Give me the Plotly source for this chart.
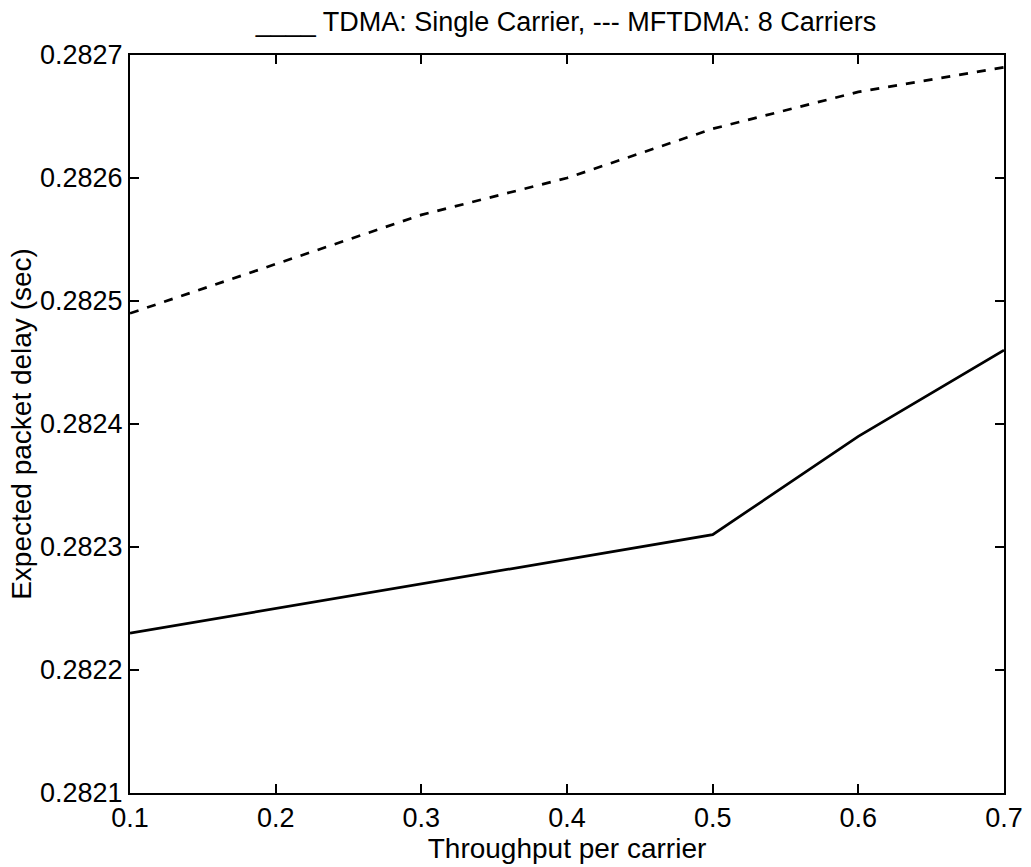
import plotly.graph_objects as go

throughput = [0.1, 0.2, 0.3, 0.4, 0.5, 0.6, 0.7]
tdma_delay = [0.28223, 0.28225, 0.28227, 0.28229, 0.28231, 0.28239, 0.28246]
mftdma_delay = [0.28249, 0.28253, 0.28257, 0.28260, 0.28264, 0.28267, 0.28269]
x_ticks = [0.1, 0.2, 0.3, 0.4, 0.5, 0.6, 0.7]
y_ticks = [0.2821, 0.2822, 0.2823, 0.2824, 0.2825, 0.2826, 0.2827]

font_family = "Liberation Sans, Arial, sans-serif"

fig = go.Figure()
fig.add_trace(go.Scatter(x=throughput, y=tdma_delay, mode="lines",
                         line=dict(color="black", width=2.7, dash="solid"),
                         name="TDMA: Single Carrier"))
fig.add_trace(go.Scatter(x=throughput, y=mftdma_delay, mode="lines",
                         line=dict(color="black", width=2.7, dash="dash"),
                         name="MFTDMA: 8 Carriers"))

axis_common = dict(showgrid=False, zeroline=False, showline=True, linecolor="black",
                   linewidth=2, mirror="ticks", ticks="inside", ticklen=9,
                   tickwidth=1.5, tickcolor="black", ticklabeloverflow="allow",
                   automargin=False,
                   tickfont=dict(family=font_family, size=27, color="black"))

fig.update_layout(
    width=1031, height=867,
    margin=dict(l=130, r=27, t=55, b=74),
    paper_bgcolor="white", plot_bgcolor="white",
    showlegend=False,
    title=dict(text="____ TDMA: Single Carrier, --- MFTDMA: 8 Carriers",
               x=0.549, xanchor="center", y=0.986, yanchor="top",
               font=dict(family=font_family, size=27, color="black")),
    xaxis=dict(range=[0.1, 0.7], tickvals=x_ticks, ticktext=[f"{v:.1f}" for v in x_ticks],
               title=dict(text="Throughput per carrier", standoff=0,
                          font=dict(family=font_family, size=28, color="black")),
               **axis_common),
    yaxis=dict(range=[0.2821, 0.2827], tickvals=y_ticks, ticktext=[f"{v:.4f}" for v in y_ticks],
               title=dict(text="Expected packet delay (sec)", standoff=0,
                          font=dict(family=font_family, size=28, color="black")),
               **axis_common),
)

fig.write_html("out.html")
